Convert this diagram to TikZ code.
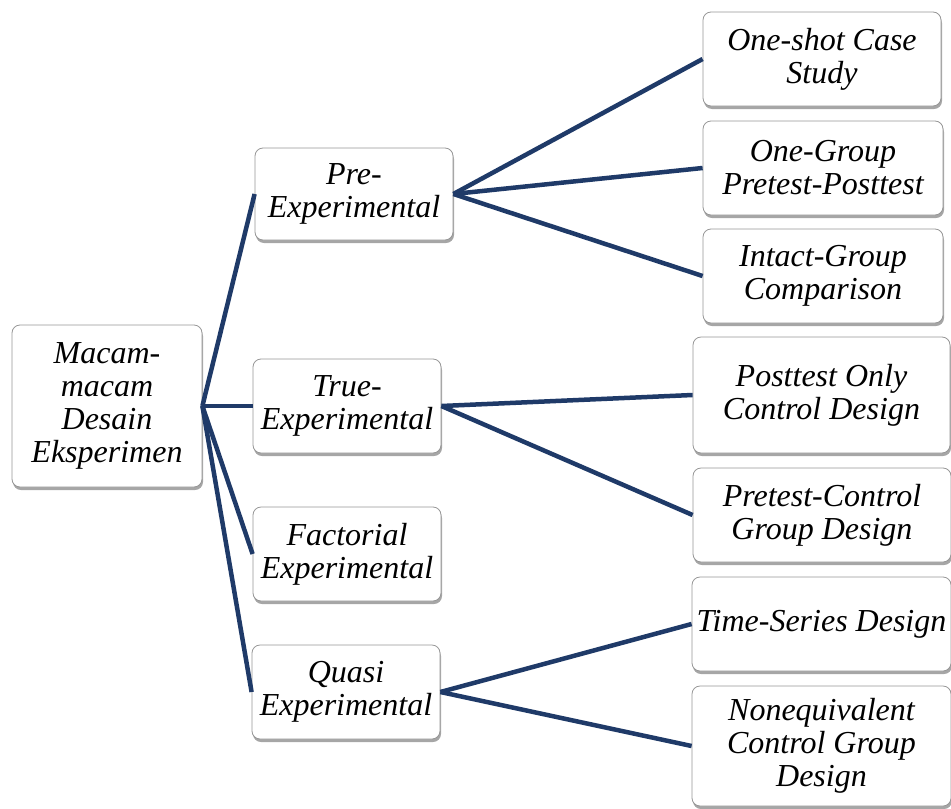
\documentclass[tikz,border=0pt]{standalone}
\usepackage{fontspec}
\setmainfont{Liberation Serif}
\usepackage{xcolor}
\usepackage{tikz}
\usetikzlibrary{positioning,shadows}
\definecolor{linkblue}{RGB}{31,58,104}
\definecolor{boxgray}{RGB}{150,150,150}

\begin{document}
\begin{tikzpicture}[
  x=1pt,y=-1pt,
  box/.style={rectangle,rounded corners=8pt,draw=boxgray,line width=0.8pt,
    fill=white,align=center,inner sep=2pt,
    font=\fontsize{32}{33}\selectfont\itshape,
    drop shadow={shadow xshift=1pt,shadow yshift=-3pt,opacity=0.35,fill=black}},
  link/.style={draw=linkblue,line width=4.5pt}
]
\useasboundingbox (0,0) rectangle (951,809);

% level 0
\node[box,minimum width=190pt,minimum height=162pt] (root) at (107,406)
  {Macam-\\ macam\\ Desain\\ Eksperimen};

% level 1
\node[box,minimum width=198pt,minimum height=92pt] (pre) at (354,194) {Pre-\\ Experimental};
\node[box,minimum width=188pt,minimum height=94pt] (tru) at (347,406) {True-\\ Experimental};
\node[box,minimum width=188pt,minimum height=94pt] (fac) at (347,554) {Factorial\\ Experimental};
\node[box,minimum width=188pt,minimum height=94pt] (qua) at (346,692) {Quasi\\ Experimental};

% level 2
\node[box,minimum width=238pt,minimum height=94pt] (osc) at (822,59) {One-shot Case\\ Study};
\node[box,minimum width=240pt,minimum height=94pt] (ogp) at (823,168) {One-Group\\ Pretest-Posttest};
\node[box,minimum width=240pt,minimum height=94pt] (igc) at (823,276) {Intact-Group\\ Comparison};
\node[box,minimum width=257pt,minimum height=116pt] (poc) at (821.5,395) {Posttest Only\\ Control Design};
\node[box,minimum width=258pt,minimum height=94pt] (pcg) at (822,515) {Pretest-Control\\ Group Design};
\node[box,minimum width=259pt,minimum height=94pt] (tsd) at (821.5,624) {Time-Series Design};
\node[box,minimum width=259pt,minimum height=120pt] (ncg) at (821.5,746) {Nonequivalent\\ Control Group\\ Design};

% connectors
\foreach \c in {pre,tru,fac,qua}
  \draw[link] (root.east) -- (\c.west);
\foreach \c in {osc,ogp,igc}
  \draw[link] (pre.east) -- (\c.west);
\foreach \c in {poc,pcg}
  \draw[link] (tru.east) -- (\c.west);
\foreach \c in {tsd,ncg}
  \draw[link] (qua.east) -- (\c.west);
\end{tikzpicture}
\end{document}
